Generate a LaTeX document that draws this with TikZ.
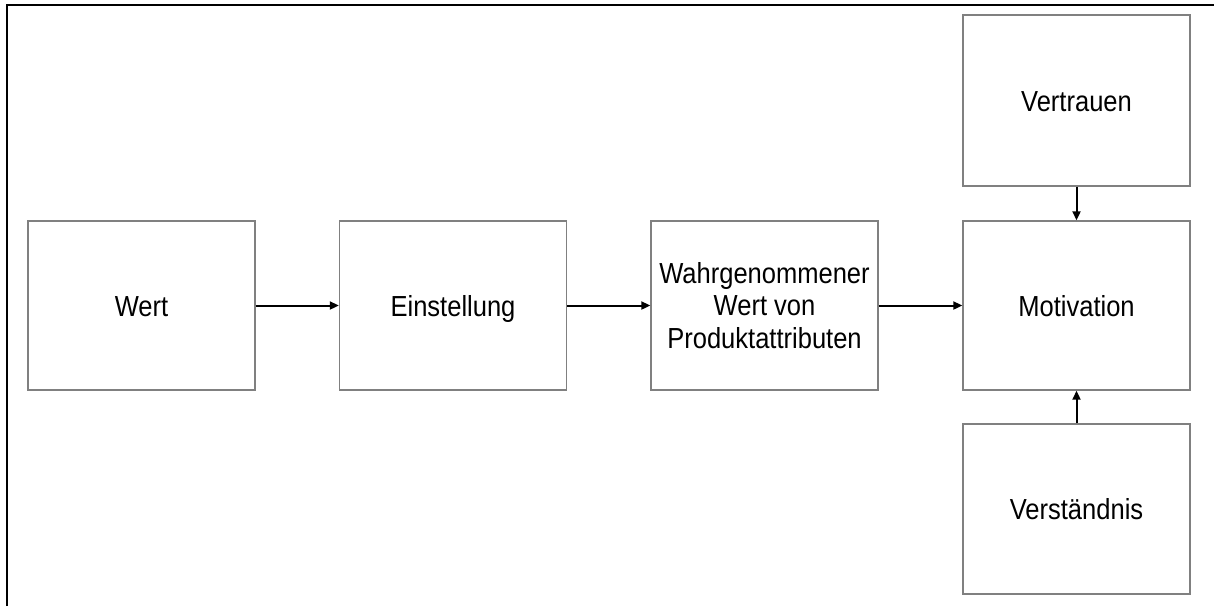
\documentclass[tikz,border=0pt]{standalone}
\usepackage{fontspec}
\setmainfont[FakeStretch=0.88]{Liberation Sans}
\usepackage{tikz}
\usepackage{xcolor}
\usetikzlibrary{arrows.meta}

\definecolor{boxgray}{RGB}{128,128,128}

\tikzset{
  factor/.style={rectangle, draw=boxgray, line width=1.4pt, fill=white, inner sep=2pt,
    minimum width=227pt, minimum height=169pt, align=center,
    font=\fontsize{29}{32.5}\selectfont},
  oneline/.style={text height=27pt, text depth=6pt},
  link/.style={-{Triangle[length=9pt, width=8pt]}, line width=2pt, black}
}

\begin{document}
\begin{tikzpicture}[x=1pt, y=-1pt]
  \useasboundingbox (0,0) rectangle (1214,606);
  % frame on top and left side
  \draw[line width=2.5pt] (7,606) -- (7,5) -- (1214,5);

  \node[factor, oneline] (wert) at (141.5, 305.5) {Wert};
  \node[factor, oneline] (einst) at (453, 305.5) {Einstellung};
  \node[factor] (wahr) at (764.5, 305.5) {Wahrgenommener\\Wert von\\Produktattributen};
  \node[factor, oneline] (motiv) at (1076.5, 305.5) {Motivation};
  \node[factor, oneline, minimum height=171pt] (vertr) at (1076.5, 100.5) {Vertrauen};
  \node[factor, oneline, minimum height=170pt] (verst) at (1076.5, 509) {Verständnis};

  \draw[link] (wert) -- (einst);
  \draw[link] (einst) -- (wahr);
  \draw[link] (wahr) -- (motiv);
  \draw[link] (vertr) -- (motiv);
  \draw[link] (verst) -- (motiv);
\end{tikzpicture}
\end{document}
